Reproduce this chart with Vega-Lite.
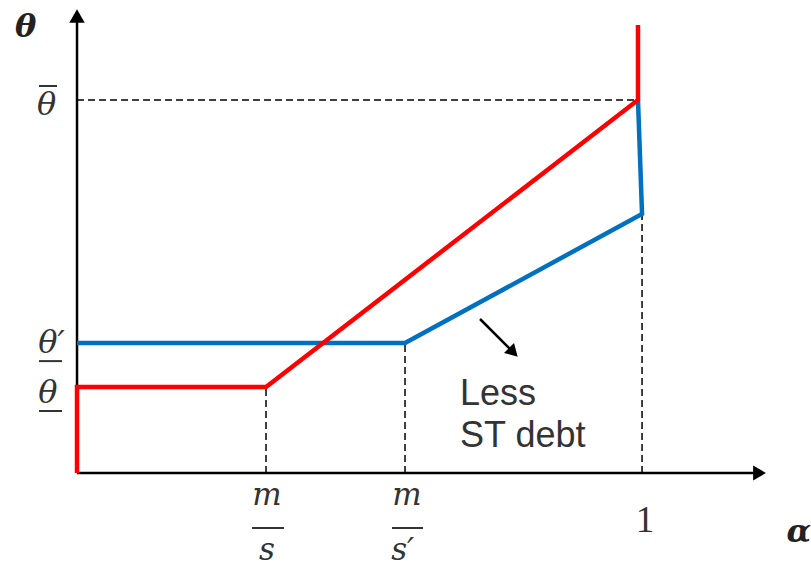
{
  "$schema": "https://vega.github.io/schema/vega-lite/v6.json",
  "width": 811,
  "height": 567,
  "padding": 0,
  "autosize": {"type": "none"},
  "background": "white",
  "config": {"view": {"stroke": null}},
  "datasets": {
    "blue": [
      {"o": 1, "a": 0, "t": 0.3485},
      {"o": 2, "a": 0.5826, "t": 0.3485},
      {"o": 3, "a": 1.0036, "t": 0.6944},
      {"o": 4, "a": 0.9964, "t": 1.0}
    ],
    "red": [
      {"o": 1, "a": 0, "t": 0},
      {"o": 2, "a": 0, "t": 0.2306},
      {"o": 3, "a": 0.3357, "t": 0.2306},
      {"o": 4, "a": 0.9964, "t": 1.0},
      {"o": 5, "a": 0.9964, "t": 1.201}
    ],
    "dashed": [
      {"a": 0, "t": 1.0, "a2": 0.9964, "t2": 1.0},
      {"a": 0.3357, "t": 0, "a2": 0.3357, "t2": 0.2306},
      {"a": 0.5826, "t": 0, "a2": 0.5826, "t2": 0.3485},
      {"a": 1.0036, "t": 0, "a2": 1.0036, "t2": 0.6944}
    ],
    "axes": [
      {"a": 0, "t": 0, "a2": 1.212, "t2": 0},
      {"a": 0, "t": 0, "a2": 0, "t2": 1.225},
      {"a": 0.7158, "t": 0.4129, "a2": 0.775, "t2": 0.3236}
    ],
    "bars": [
      {"a": -0.0675, "t": 1.0375, "a2": -0.0355, "t2": 1.0375},
      {"a": -0.0675, "t": 0.300, "a2": -0.0266, "t2": 0.300},
      {"a": -0.0675, "t": 0.1662, "a2": -0.0266, "t2": 0.1662},
      {"a": 0.3108, "t": -0.1475, "a2": 0.3677, "t2": -0.1475},
      {"a": 0.5595, "t": -0.1475, "a2": 0.6146, "t2": -0.1475}
    ],
    "headUp": [{"a": 0, "t": 1.2252}],
    "headRight": [{"a": 1.2123, "t": 0}],
    "headDiag": [{"a": 0.775, "t": 0.3236}],
    "thetaLeft": [
      {"label": "θ", "a": -0.0710, "t": 0.960},
      {"label": "θ′", "a": -0.0690, "t": 0.3217},
      {"label": "θ", "a": -0.0690, "t": 0.1877}
    ],
    "mathCenter": [
      {"label": "m", "a": 0.3375, "t": -0.0858},
      {"label": "s", "a": 0.3375, "t": -0.2330},
      {"label": "m", "a": 0.5861, "t": -0.0858}
    ],
    "mathLeft": [
      {"label": "s′", "a": 0.5580, "t": -0.2330}
    ],
    "numbers": [
      {"label": "1", "a": 1.0089, "t": -0.1582}
    ],
    "axisNames": [
      {"label": "θ", "a": -0.1100, "t": 1.169},
      {"label": "α", "a": 1.2600, "t": -0.185}
    ],
    "note": [
      {"label": "Less", "a": 0.6803, "t": 0.1823},
      {"label": "ST debt", "a": 0.6803, "t": 0.0697}
    ]
  },
  "encoding": {
    "x": {"field": "a", "type": "quantitative", "scale": {"domain": [-0.1368, 1.3037], "nice": false, "zero": false}, "axis": null},
    "y": {"field": "t", "type": "quantitative", "scale": {"domain": [-0.2520, 1.2681], "nice": false, "zero": false}, "axis": null}
  },
  "layer": [
    {
      "data": {"name": "dashed"},
      "mark": {"type": "rule", "color": "black", "strokeWidth": 1.5, "strokeDash": [7, 4]},
      "encoding": {"x2": {"field": "a2"}, "y2": {"field": "t2"}}
    },
    {
      "data": {"name": "axes"},
      "mark": {"type": "rule", "color": "black", "strokeWidth": 2.5},
      "encoding": {"x2": {"field": "a2"}, "y2": {"field": "t2"}}
    },
    {
      "data": {"name": "headUp"},
      "mark": {"type": "point", "shape": "triangle-up", "filled": true, "color": "black", "size": 240, "opacity": 1},
      "encoding": {}
    },
    {
      "data": {"name": "headRight"},
      "mark": {"type": "point", "shape": "triangle-right", "filled": true, "color": "black", "size": 220, "opacity": 1},
      "encoding": {}
    },
    {
      "data": {"name": "headDiag"},
      "mark": {"type": "point", "shape": "triangle-right", "filled": true, "color": "black", "size": 200, "angle": 45, "opacity": 1},
      "encoding": {}
    },
    {
      "data": {"name": "blue"},
      "mark": {"type": "line", "color": "#0070C0", "strokeWidth": 4.5, "strokeJoin": "miter"},
      "encoding": {"order": {"field": "o"}}
    },
    {
      "data": {"name": "red"},
      "mark": {"type": "line", "color": "#FF0000", "strokeWidth": 4.5, "strokeJoin": "miter"},
      "encoding": {"order": {"field": "o"}}
    },
    {
      "data": {"name": "bars"},
      "mark": {"type": "rule", "color": "#333333", "strokeWidth": 2},
      "encoding": {"x2": {"field": "a2"}, "y2": {"field": "t2"}}
    },
    {
      "data": {"name": "thetaLeft"},
      "mark": {"type": "text", "font": "DejaVu Serif", "fontStyle": "italic", "fontSize": 32, "align": "left", "baseline": "alphabetic", "color": "#333333"},
      "encoding": {"text": {"field": "label"}}
    },
    {
      "data": {"name": "mathCenter"},
      "mark": {"type": "text", "font": "DejaVu Serif", "fontStyle": "italic", "fontSize": 31, "align": "center", "baseline": "alphabetic", "color": "#333333"},
      "encoding": {"text": {"field": "label"}}
    },
    {
      "data": {"name": "mathLeft"},
      "mark": {"type": "text", "font": "DejaVu Serif", "fontStyle": "italic", "fontSize": 31, "align": "left", "baseline": "alphabetic", "color": "#333333"},
      "encoding": {"text": {"field": "label"}}
    },
    {
      "data": {"name": "numbers"},
      "mark": {"type": "text", "font": "Liberation Serif", "fontSize": 37, "align": "center", "baseline": "alphabetic", "color": "#333333"},
      "encoding": {"text": {"field": "label"}}
    },
    {
      "data": {"name": "axisNames"},
      "mark": {"type": "text", "font": "DejaVu Serif", "fontStyle": "italic", "fontWeight": "bold", "fontSize": 32, "align": "left", "baseline": "alphabetic", "color": "#222222"},
      "encoding": {"text": {"field": "label"}}
    },
    {
      "data": {"name": "note"},
      "mark": {"type": "text", "font": "Liberation Sans", "fontSize": 36, "align": "left", "baseline": "alphabetic", "color": "#333333"},
      "encoding": {"text": {"field": "label"}}
    }
  ]
}
